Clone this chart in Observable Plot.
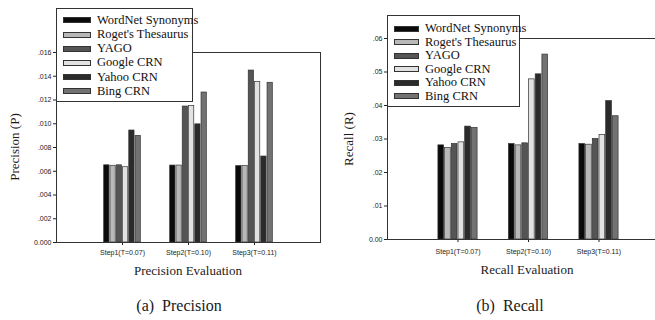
<!DOCTYPE html>
<html>
<head>
<meta charset="utf-8">
<script src="https://cdn.jsdelivr.net/npm/d3@7"></script>
<script src="https://cdn.jsdelivr.net/npm/@observablehq/plot@0.6"></script>
<style>
html, body { margin: 0; padding: 0; background: #fff; }
#wrap { position: relative; width: 655px; height: 320px; overflow: hidden; background: #fff; }
.panel { position: absolute; top: 0; height: 320px; }
.panel svg { max-width: none !important; display: block; }
.txt { position: absolute; white-space: nowrap; font-family: "Liberation Serif", "Times New Roman", serif; color: #1a1a1a; transform: translate(-50%, -50%); }
.rot { transform: translate(-50%, -50%) rotate(-90deg); }
.legend { position: absolute; background: #fff; border: 1px solid #333; box-sizing: border-box; z-index: 5; }
.row { position: absolute; display: flex; align-items: center; font-family: "Liberation Serif", "Times New Roman", serif; font-size: 12.5px; color: #111; white-space: nowrap; }
.sw { box-sizing: border-box; border: 1px solid #333; height: 6px; }
</style>
</head>
<body>
<div id="wrap"></div>
<script>
// ---- data ----
const steps = ["Step1(T=0.07)", "Step2(T=0.10)", "Step3(T=0.11)"];
const series = ["WordNet Synonyms", "Roget's Thesaurus", "YAGO", "Google CRN", "Yahoo CRN", "Bing CRN"];
const colors = ["#0a0a0a", "#b8b8b8", "#555555", "#e2e2e2", "#2b2b2b", "#727272"];

const precisionStep1 = [0.00650, 0.00646, 0.00650, 0.00634, 0.00943, 0.00898];
const precisionStep2 = [0.00648, 0.00648, 0.01145, 0.01150, 0.00995, 0.01263];
const precisionStep3 = [0.00643, 0.00643, 0.01448, 0.01353, 0.00724, 0.01345];

const recallStep1 = [0.0281, 0.0273, 0.0285, 0.0290, 0.0337, 0.0333];
const recallStep2 = [0.0285, 0.0281, 0.0287, 0.0478, 0.0493, 0.0552];
const recallStep3 = [0.0285, 0.0283, 0.0300, 0.0312, 0.0413, 0.0368];

const precisionTicks = [0, 0.002, 0.004, 0.006, 0.008, 0.010, 0.012, 0.014, 0.016];
const recallTicks = [0, 0.01, 0.02, 0.03, 0.04, 0.05, 0.06];

// ---- chart builder ----
function chart({values, yTicks, digits, width, marginLeft, marginTop, marginBottom, tickPadding}) {
  const rows = [];
  values.forEach((vals, i) => vals.forEach((v, j) => rows.push({step: i + 1, j, series: series[j], value: v})));
  const gw = 0.57, slot = gw / series.length;
  const fmt = d => d === 0 ? (0).toFixed(digits) : d.toFixed(digits).replace(/^0/, "");
  return Plot.plot({
    width, height: 320,
    marginLeft, marginRight: 10, marginTop, marginBottom,
    style: {fontFamily: "'Liberation Sans', Arial, sans-serif", fontSize: "7px", color: "#222", background: "transparent", overflow: "visible", maxWidth: "none"},
    x: {domain: [0, 4], ticks: [1, 2, 3], tickFormat: d => steps[d - 1], tickSize: 3, tickPadding, label: null},
    y: {domain: [0, yTicks[yTicks.length - 1]], ticks: yTicks, tickFormat: fmt, tickSize: 3, tickPadding: 2, label: null},
    color: {domain: series, range: colors},
    marks: [
      Plot.rect(rows, {
        x1: d => d.step - gw / 2 + d.j * slot,
        x2: d => d.step - gw / 2 + (d.j + 1) * slot,
        y1: 0, y2: "value",
        fill: "series", stroke: "#333", strokeWidth: 0.7,
        insetLeft: 0.5, insetRight: 0.5
      }),
      Plot.frame({stroke: "#333"})
    ]
  });
}

const wrap = document.getElementById("wrap");

function addPanel(left, width, svg) {
  const d = document.createElement("div");
  d.className = "panel";
  d.style.left = left + "px";
  d.style.width = width + "px";
  d.appendChild(svg);
  wrap.appendChild(d);
}

function addText(text, x, y, size, rotate) {
  const t = document.createElement("div");
  t.className = "txt" + (rotate ? " rot" : "");
  t.style.left = x + "px";
  t.style.top = y + "px";
  t.style.fontSize = size + "px";
  t.textContent = text;
  wrap.appendChild(t);
}

function addLegend(left, top, w, h, firstRow, rowStep, swLeft, swW, textLeft) {
  const box = document.createElement("div");
  box.className = "legend";
  box.style.left = left + "px";
  box.style.top = top + "px";
  box.style.width = w + "px";
  box.style.height = h + "px";
  series.forEach((s, i) => {
    const r = document.createElement("div");
    r.className = "row";
    r.style.left = swLeft + "px";
    r.style.top = (firstRow + i * rowStep - 8) + "px";
    r.style.height = "16px";
    const sw = document.createElement("div");
    sw.className = "sw";
    sw.style.width = swW + "px";
    sw.style.background = colors[i];
    sw.style.marginRight = (textLeft - swLeft - swW) + "px";
    const lab = document.createElement("span");
    lab.textContent = s;
    r.appendChild(sw);
    r.appendChild(lab);
    box.appendChild(r);
  });
  wrap.appendChild(box);
}

// Left: Precision
addPanel(0, 330, chart({
  values: [precisionStep1, precisionStep2, precisionStep3],
  yTicks: precisionTicks, digits: 3,
  width: 330, marginLeft: 56, marginTop: 52, marginBottom: 78, tickPadding: 5
}));
// Right: Recall
addPanel(325, 354, chart({
  values: [recallStep1, recallStep2, recallStep3],
  yTicks: recallTicks, digits: 2,
  width: 354, marginLeft: 62, marginTop: 38, marginBottom: 81, tickPadding: 7
}));

addText("Precision (P)", 15, 147, 13, true);
addText("Precision Evaluation", 188, 271, 13);
addText("(a)\u00a0 Precision", 179, 306, 16);

addText("Recall (R)", 349, 139, 13, true);
addText("Recall Evaluation", 527, 270, 13);
addText("(b)\u00a0 Recall", 510, 306, 16);

addLegend(56, 8, 137, 94, 11.3, 14.2, 6, 28, 40);
addLegend(387, 15, 133, 92, 12.7, 13.5, 6, 25, 37);
</script>
</body>
</html>
